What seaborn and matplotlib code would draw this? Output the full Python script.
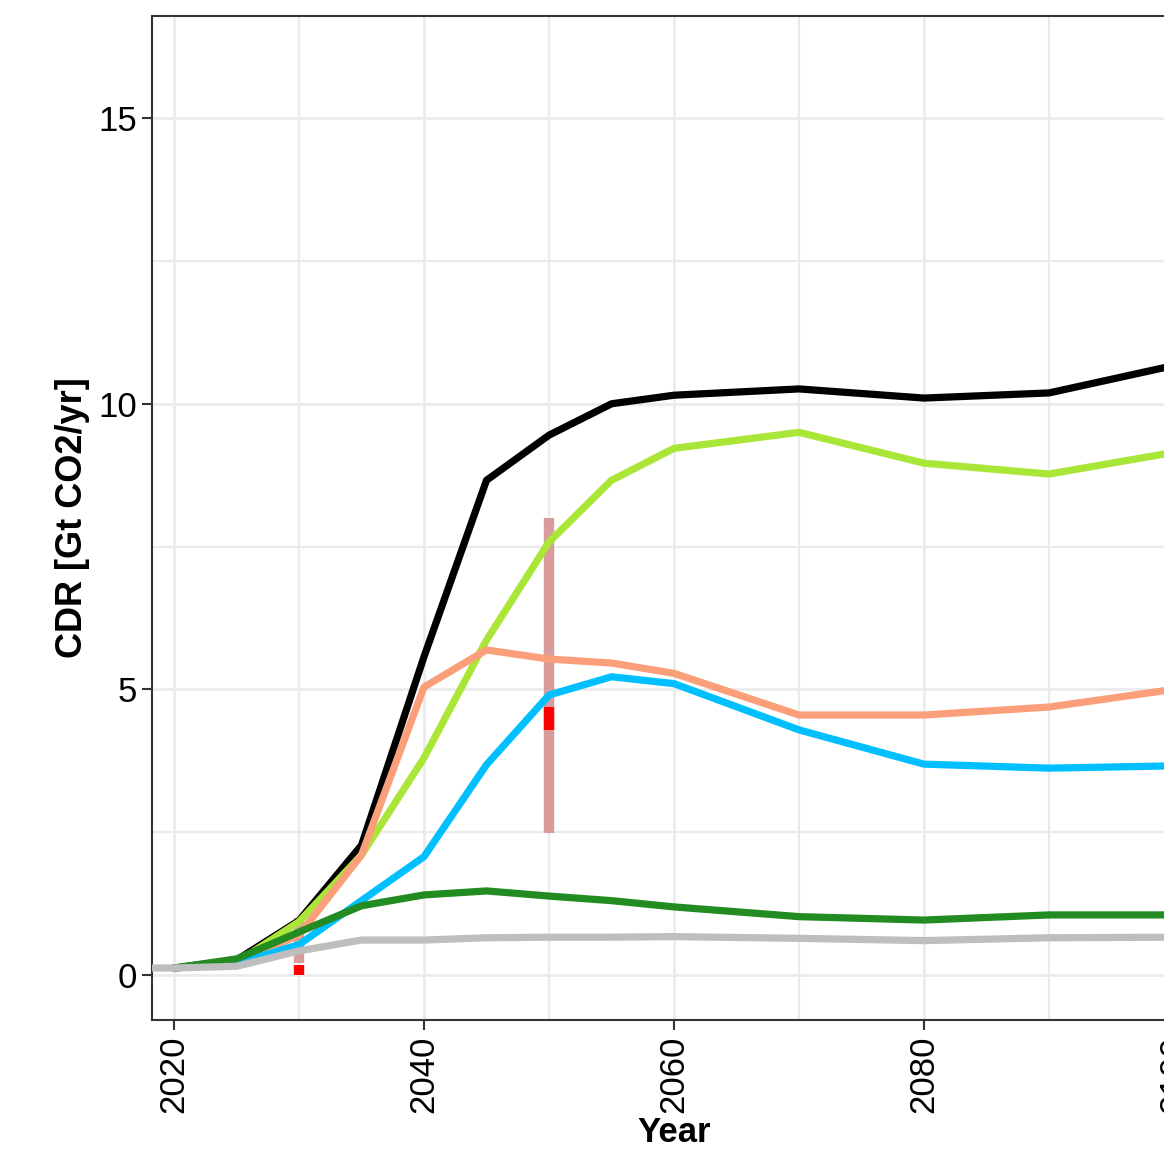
#!/usr/bin/env python3
"""Recreate CDR pathway chart (Gt CO2/yr by year) with seaborn."""

import numpy as np
import pandas as pd
import matplotlib
matplotlib.use("Agg")
import matplotlib.pyplot as plt
from matplotlib.ticker import MultipleLocator
import seaborn as sns

# ==== Data ====
years = [2020, 2025, 2030, 2035, 2040, 2045, 2050, 2055, 2060, 2070, 2080, 2090, 2100]

black_vals = [0.12, 0.26, 0.95, 2.27, 5.57, 8.66, 9.45, 10.00, 10.15, 10.26, 10.10, 10.19, 10.67]
lime_vals = [0.12, 0.22, 0.93, 2.10, 3.80, 5.86, 7.58, 8.66, 9.22, 9.50, 8.96, 8.77, 9.15]
salmon_vals = [0.12, 0.20, 0.70, 2.10, 5.04, 5.69, 5.53, 5.46, 5.28, 4.55, 4.55, 4.69, 5.00]
blue_vals = [0.12, 0.20, 0.53, 1.30, 2.07, 3.68, 4.90, 5.22, 5.10, 4.29, 3.69, 3.62, 3.66]
forest_vals = [0.12, 0.28, 0.75, 1.21, 1.40, 1.47, 1.38, 1.30, 1.19, 1.02, 0.96, 1.05, 1.05]
grey_years = [2015] + years
grey_vals = [0.12, 0.12, 0.15, 0.42, 0.61, 0.61, 0.65, 0.66, 0.66, 0.67, 0.64, 0.60, 0.65, 0.66]

# literature ranges (light bar) and medians (red block)
range_years = [2030, 2050]
range_low = [0.20, 2.48]
range_high = [1.00, 8.00]
median_low = [0.00, 4.29]
median_high = [0.18, 4.69]

series = {
    "black": (years, black_vals),
    "lime": (years, lime_vals),
    "salmon": (years, salmon_vals),
    "blue": (years, blue_vals),
    "forest": (years, forest_vals),
    "grey": (grey_years, grey_vals),
}
palette = {
    "black": "#000000",
    "lime": "#A9E637",
    "salmon": "#FA9F7A",
    "blue": "#00BFFF",
    "forest": "#228B22",
    "grey": "#BEBEBE",
}


def main():
    rows = []
    for name, (xs, ys) in series.items():
        for x, y in zip(xs, ys):
            rows.append({"year": x, "cdr": y, "scenario": name})
    df = pd.DataFrame(rows)

    sns.set_theme(style="whitegrid")
    plt.rcParams["font.family"] = ["Liberation Sans", "DejaVu Sans"]
    plt.rcParams["text.color"] = "black"
    plt.rcParams["axes.labelcolor"] = "black"

    fig = plt.figure(figsize=(11.64, 11.49), dpi=100)
    # panel runs past the right edge, like the cropped original
    ax = fig.add_axes([152 / 1164, 1 - 1020 / 1149, (1196 - 152) / 1164, (1020 - 16) / 1149])
    ax.set_facecolor("white")

    # gridlines (theme_bw look)
    ax.xaxis.set_major_locator(MultipleLocator(20))
    ax.xaxis.set_minor_locator(MultipleLocator(10))
    ax.yaxis.set_major_locator(MultipleLocator(5))
    ax.yaxis.set_minor_locator(MultipleLocator(2.5))
    ax.grid(True, which="major", color="#EBEBEB", linewidth=2.0)
    ax.grid(True, which="minor", color="#EBEBEB", linewidth=1.6)
    ax.set_axisbelow(True)

    # ranges behind the lines
    ax.vlines(range_years, range_low, range_high, colors="#D99C9C", linewidth=7.5, zorder=2)

    sns.lineplot(data=df, x="year", y="cdr", hue="scenario", palette=palette,
                 hue_order=list(series.keys()), linewidth=5.2, legend=False,
                 sort=False, ax=ax, zorder=3)

    ax.vlines(range_years, median_low, median_high, colors="#FF0000", linewidth=7.5, zorder=4)

    ax.set_xlim(2018.24, 2101.76)
    ax.set_ylim(-0.79, 16.79)

    for s in ax.spines.values():
        s.set_visible(True)
        s.set_color("#333333")
        s.set_linewidth(1.5)

    ax.tick_params(axis="both", which="major", length=7, width=1.5, color="#333333",
                   labelsize=25, labelcolor="black", pad=4, bottom=True, left=True)
    ax.tick_params(axis="both", which="minor", length=0)
    ax.tick_params(axis="x", labelrotation=90)

    ax.set_xlabel("Year", fontsize=25, fontweight="bold", color="black", labelpad=2)
    ax.set_ylabel("CDR [Gt CO2/yr]", fontsize=26, fontweight="bold", color="black", labelpad=6)

    fig.savefig("out.png", dpi=100)
    plt.close(fig)


if __name__ == "__main__":
    main()
